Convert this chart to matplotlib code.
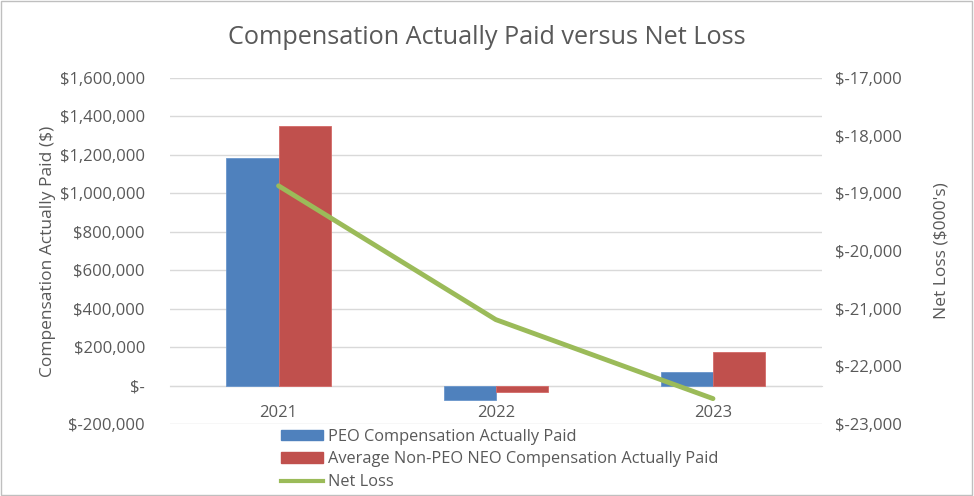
import matplotlib
matplotlib.use("Agg")
import matplotlib.pyplot as plt
import matplotlib.ticker as mticker
from matplotlib.patches import Patch, Rectangle
from matplotlib.lines import Line2D
import numpy as np

plt.rcParams['font.family'] = ['Open Sans', 'DejaVu Sans']

years = ["2021", "2022", "2023"]
peo_cap = [1184000, -73000, 68000]
neo_cap = [1350000, -36000, 177000]
net_loss = [-18870, -21190, -22560]

blue = "#4f81bd"
red = "#c0504d"
green = "#9bbb59"
txt = "#595959"

fig = plt.figure(figsize=(9.74, 4.96), dpi=100)
fig.add_artist(Rectangle((0.001, 0.002), 0.997, 0.996, transform=fig.transFigure,
                         fill=False, edgecolor="#bfbfbf", linewidth=1))

ax = fig.add_axes([0.1745, 0.1452, 0.669, 0.6976])
x = np.arange(len(years))
w = 0.24
ax.bar(x - w/2, peo_cap, w, color=blue, edgecolor="#6a96cc", linewidth=0.6, zorder=3)
ax.bar(x + w/2, neo_cap, w, color=red, edgecolor="#d46a67", linewidth=0.6, zorder=3)
ax.set_xlim(-0.5, 2.5)
ax.set_ylim(-200000, 1600000)
ax.set_yticks(np.arange(-200000, 1600001, 200000))

def lfmt(v, p):
    if abs(v) < 1:
        return "$-"
    return "${:,.0f}".format(v) if v > 0 else "$-{:,.0f}".format(-v)
ax.yaxis.set_major_formatter(mticker.FuncFormatter(lfmt))
ax.grid(axis='y', color="#d9d9d9", linewidth=1, zorder=0)
for s in ['top', 'right', 'left']:
    ax.spines[s].set_visible(False)
ax.spines['bottom'].set_position(('data', 0))
ax.spines['bottom'].set_color("#d9d9d9")
ax.set_xticks(x)
ax.set_xticklabels(years)
ax.tick_params(axis='both', length=0, labelsize=12, colors=txt)
ax.tick_params(axis='x', pad=14)
ax.tick_params(axis='y', pad=18)
ax.set_ylabel("Compensation Actually Paid ($)", fontsize=12.5, color=txt, labelpad=3)

ax2 = ax.twinx()
ax2.plot(x, net_loss, color=green, linewidth=3.5, solid_capstyle='round', zorder=4)
ax2.set_ylim(-23000, -17000)
ax2.set_yticks(np.arange(-23000, -16999, 1000))
ax2.yaxis.set_major_formatter(mticker.FuncFormatter(lambda v, p: "$-{:,.0f}".format(-v)))
for s in ax2.spines.values():
    s.set_visible(False)
ax2.tick_params(axis='y', length=0, labelsize=12, colors=txt, pad=10)
ax2.set_ylabel("Net Loss ($000's)", fontsize=12.5, color=txt, labelpad=22)

fig.text(0.5, 0.925, "Compensation Actually Paid versus Net Loss", ha='center', va='center',
         fontsize=18.2, color=txt)

handles = [Patch(color=blue), Patch(color=red), Line2D([0], [0], color=green, linewidth=3)]
labels = ["PEO Compensation Actually Paid", "Average Non-PEO NEO Compensation Actually Paid", "Net Loss"]
leg = fig.legend(handles, labels, loc='upper left', bbox_to_anchor=(0.289, 0.136), frameon=False,
                 fontsize=11.8, labelcolor=txt, handlelength=2.55, handleheight=0.6, handletextpad=0.3,
                 labelspacing=0.42, borderpad=0, borderaxespad=0)

fig.savefig("out.png", dpi=100)
